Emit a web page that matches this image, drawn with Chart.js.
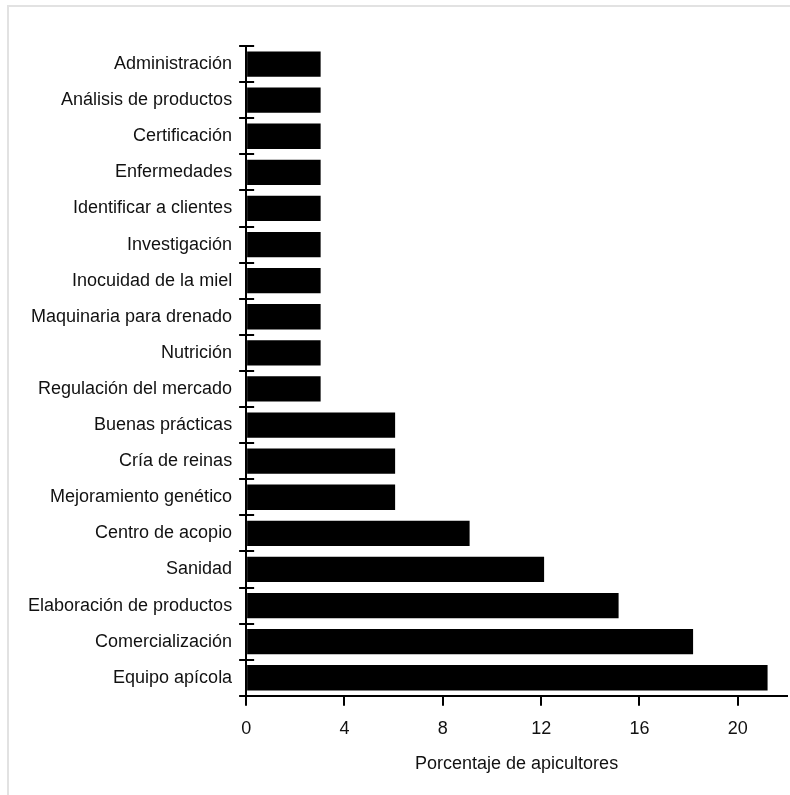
<!DOCTYPE html>
<html>
<head>
<meta charset="utf-8">
<script src="https://cdn.jsdelivr.net/npm/chart.js@4/dist/chart.umd.min.js"></script>
<style>
  html, body { margin: 0; padding: 0; background: #fff; }
  #wrap { position: relative; width: 790px; height: 795px; }
  #frame { position: absolute; left: 7px; top: 5px; right: 0; bottom: 0;
           border-top: 2px solid #e2e2e2; border-left: 2px solid #e2e2e2; }
  canvas { position: absolute; left: 0; top: 0; }
</style>
</head>
<body>
<div id="wrap">
  <div id="frame"></div>
  <canvas id="c" width="790" height="795"></canvas>
</div>
<script>
const categories = [
  "Administración",
  "Análisis de productos",
  "Certificación",
  "Enfermedades",
  "Identificar a clientes",
  "Investigación",
  "Inocuidad de la miel",
  "Maquinaria para drenado",
  "Nutrición",
  "Regulación del mercado",
  "Buenas prácticas",
  "Cría de reinas",
  "Mejoramiento genético",
  "Centro de acopio",
  "Sanidad",
  "Elaboración de productos",
  "Comercialización",
  "Equipo apícola"
];
const porcentaje = [
  3.03, 3.03, 3.03, 3.03, 3.03, 3.03, 3.03, 3.03, 3.03, 3.03,
  6.06, 6.06, 6.06,
  9.09, 12.12, 15.15, 18.18, 21.21
];
const xTickValues = [0, 4, 8, 12, 16, 20];
const xTitle = "Porcentaje de apicultores";

const FONT = "'Liberation Sans', Arial, Helvetica, sans-serif";
const INK = "#111";

const yTickPlugin = {
  id: 'yBoundaryTicks',
  afterDraw(chart) {
    const ys = chart.scales.y;
    const ctx = chart.ctx;
    const ax = ys.right;
    ctx.save();
    ctx.strokeStyle = "#000";
    ctx.lineWidth = 2;
    ctx.beginPath();
    for (let i = 0; i <= categories.length; i++) {
      const py = Math.round(ys.getPixelForValue(i - 0.5));
      ctx.moveTo(ax - 7, py);
      ctx.lineTo(ax + 8, py);
    }
    ctx.stroke();
    ctx.restore();
  }
};

new Chart(document.getElementById('c'), {
  type: 'bar',
  data: {
    labels: categories,
    datasets: [{
      data: porcentaje,
      backgroundColor: "#000",
      borderWidth: 0,
      barPercentage: 0.7,
      categoryPercentage: 1.0
    }]
  },
  options: {
    indexAxis: 'y',
    responsive: false,
    animation: false,
    devicePixelRatio: 1,
    layout: { padding: { top: 46, right: 3, bottom: 20, left: 14 } },
    plugins: { legend: { display: false }, tooltip: { enabled: false } },
    scales: {
      x: {
        min: 0,
        max: 22,
        afterBuildTicks(scale) {
          scale.ticks = xTickValues.map(v => ({ value: v }));
        },
        grid: {
          display: true,
          drawOnChartArea: false,
          drawTicks: true,
          tickLength: 10,
          color: "#000",
          lineWidth: 2
        },
        border: { display: true, color: "#000", width: 2 },
        ticks: {
          color: INK,
          font: { family: FONT, size: 18 },
          padding: 12,
          maxRotation: 0
        },
        title: {
          display: true,
          text: xTitle,
          color: INK,
          font: { family: FONT, size: 18 },
          padding: { top: 2, bottom: 0 }
        }
      },
      y: {
        grid: { display: false, drawTicks: false },
        border: { display: true, color: "#000", width: 2 },
        ticks: {
          color: INK,
          font: { family: FONT, size: 18 },
          padding: 14,
          autoSkip: false
        }
      }
    }
  },
  plugins: [yTickPlugin]
});
</script>
</body>
</html>
